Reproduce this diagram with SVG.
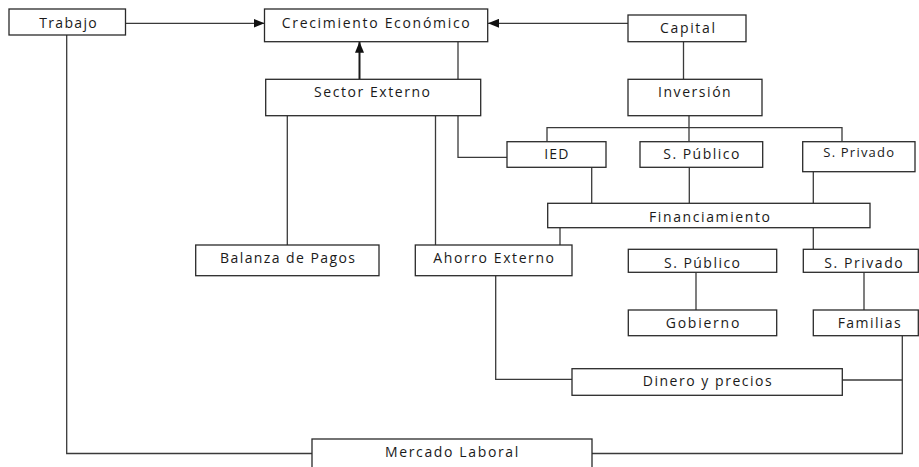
<svg xmlns="http://www.w3.org/2000/svg" width="919" height="467" viewBox="0 0 919 467">
<style>
.box{fill:#fff;stroke:#2a2a2a;stroke-width:1.3}
.lbl{font-family:"Open Sans","Liberation Sans",sans-serif;font-size:14px;fill:#1a1a1a}
.sm{font-size:13px}
.con{fill:none;stroke:#3a3a3a;stroke-width:1.3}
.thick{stroke:#1a1a1a;stroke-width:2}
</style>
<defs>
<marker id="arr" markerUnits="userSpaceOnUse" markerWidth="11" markerHeight="9" refX="11" refY="4.5" orient="auto">
<path d="M0,0 L11,4.5 L0,9 z" fill="#111"/>
</marker>
</defs>
<rect width="919" height="467" fill="#fff"/>
<g id="connectors">
<path class="con" d="M125.5,23.3 H264.5" marker-end="url(#arr)"/>
<path class="con" d="M628,23.3 H488" marker-end="url(#arr)"/>
<path class="con thick" d="M359.5,79.3 V41.7" marker-end="url(#arr)"/>
<path class="con" d="M458,41.7 V79.3"/>
<path class="con" d="M683.5,41.7 V79.3"/>
<path class="con" d="M689,115.7 V141.7"/>
<path class="con" d="M547,141.7 V127.7 H842 V141.7"/>
<path class="con" d="M458,115.7 V157.3 H507"/>
<path class="con" d="M287.3,115.7 V245"/>
<path class="con" d="M435.5,115.7 V245"/>
<path class="con" d="M591.7,167.3 V203.3"/>
<path class="con" d="M689.3,167.3 V203.3"/>
<path class="con" d="M813.3,171.7 V203.3"/>
<path class="con" d="M560,227.7 V245"/>
<path class="con" d="M813.3,227.7 V249.3"/>
<path class="con" d="M696,272.3 V310"/>
<path class="con" d="M864,272.3 V310"/>
<path class="con" d="M495.7,275.7 V379.3 H572"/>
<path class="con" d="M842.3,380 H902.3"/>
<path class="con" d="M902.3,335.7 V453.5 H592"/>
<path class="con" d="M66.7,35 V453.5 H312"/>
</g>
<g id="trabajo"><rect class="box" x="9" y="9" width="116.5" height="26"/><text class="lbl" x="39.3" y="27.5" textLength="57.4" lengthAdjust="spacing">Trabajo</text></g>
<g id="crecimiento"><rect class="box" x="264.5" y="9" width="223.2" height="32.7"/><text class="lbl" x="281.7" y="28.3" textLength="188" lengthAdjust="spacing">Crecimiento Económico</text></g>
<g id="capital"><rect class="box" x="628" y="15" width="118" height="26.7"/><text class="lbl" x="660" y="33.3" textLength="55" lengthAdjust="spacing">Capital</text></g>
<g id="sector-externo"><rect class="box" x="265.7" y="79.3" width="215" height="36.4"/><text class="lbl" x="314" y="97.3" textLength="116" lengthAdjust="spacing">Sector Externo</text></g>
<g id="inversion"><rect class="box" x="628" y="79.3" width="134" height="36.4"/><text class="lbl" x="658" y="97.3" textLength="72.7" lengthAdjust="spacing">Inversión</text></g>
<g id="ied"><rect class="box" x="507" y="141.7" width="99" height="25.6"/><text class="lbl" x="544.3" y="159.3" textLength="24" lengthAdjust="spacing">IED</text></g>
<g id="s-publico-1"><rect class="box" x="640" y="141.7" width="122.7" height="25.6"/><text class="lbl" x="663.3" y="159.3" textLength="76" lengthAdjust="spacing">S. Público</text></g>
<g id="s-privado-1"><rect class="box" x="802.7" y="141.7" width="112.3" height="30"/><text class="lbl sm" x="823.3" y="157.3" textLength="70.7" lengthAdjust="spacing">S. Privado</text></g>
<g id="financiamiento"><rect class="box" x="547.7" y="203.3" width="322.3" height="24.4"/><text class="lbl" x="649" y="221.7" textLength="121" lengthAdjust="spacing">Financiamiento</text></g>
<g id="balanza"><rect class="box" x="195.7" y="245" width="183.3" height="30.7"/><text class="lbl" x="220" y="263.3" textLength="135" lengthAdjust="spacing">Balanza de Pagos</text></g>
<g id="ahorro-externo"><rect class="box" x="415.3" y="245" width="156.7" height="30.7"/><text class="lbl" x="433.3" y="263.3" textLength="120.7" lengthAdjust="spacing">Ahorro Externo</text></g>
<g id="s-publico-2"><rect class="box" x="628.3" y="249.3" width="148.4" height="23"/><text class="lbl" x="664" y="267.7" textLength="76" lengthAdjust="spacing">S. Público</text></g>
<g id="s-privado-2"><rect class="box" x="803.3" y="249.3" width="115" height="23"/><text class="lbl" x="824.3" y="267.7" textLength="78.4" lengthAdjust="spacing">S. Privado</text></g>
<g id="gobierno"><rect class="box" x="628.3" y="310" width="148.4" height="25.7"/><text class="lbl" x="665.7" y="327.7" textLength="73.6" lengthAdjust="spacing">Gobierno</text></g>
<g id="familias"><rect class="box" x="813.3" y="310" width="105" height="25.7"/><text class="lbl" x="837.7" y="327.7" textLength="63" lengthAdjust="spacing">Familias</text></g>
<g id="dinero"><rect class="box" x="572" y="368.7" width="270.3" height="26.6"/><text class="lbl" x="642.7" y="386" textLength="129" lengthAdjust="spacing">Dinero y precios</text></g>
<g id="mercado-laboral"><rect class="box" x="312" y="439" width="280" height="40"/><text class="lbl" x="385" y="456.7" textLength="133.3" lengthAdjust="spacing">Mercado Laboral</text></g>
</svg>
